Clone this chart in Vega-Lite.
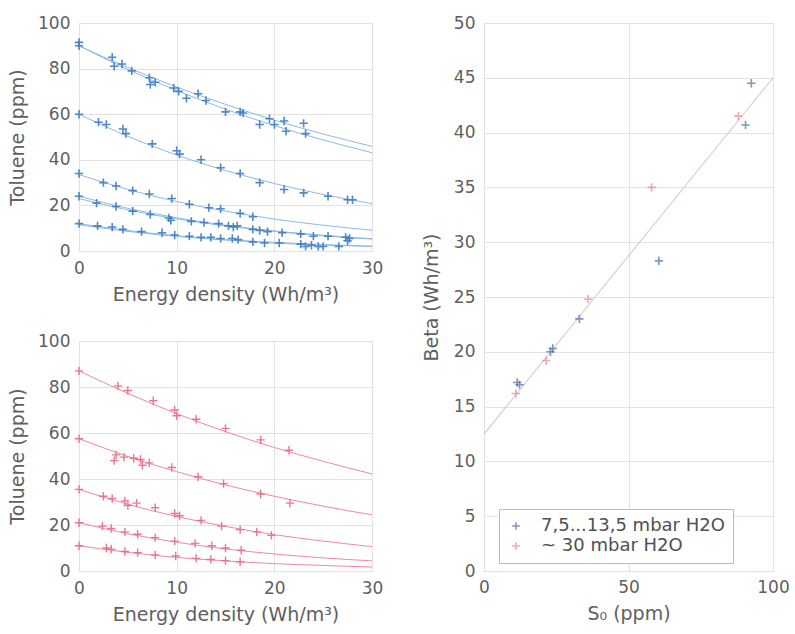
{
  "$schema": "https://vega.github.io/schema/vega-lite/v6.json",
  "background": "white",
  "padding": {"left": 8, "top": 13, "right": 5, "bottom": 5},
  "datasets": {
    "blue_pts": [
      {"x":0,"y":90},{"x":0,"y":91.5},{"x":3.4,"y":85},{"x":3.6,"y":81},{"x":4.4,"y":82},{"x":5.4,"y":79},{"x":7.2,"y":76},{"x":7.3,"y":73},{"x":7.8,"y":74},{"x":9.7,"y":71.5},{"x":10.2,"y":70},{"x":11,"y":67},{"x":12.2,"y":69},{"x":13,"y":66},{"x":15,"y":61},{"x":16.5,"y":61},{"x":16.8,"y":60.5},{"x":18.5,"y":55.5},{"x":19.5,"y":58},{"x":20,"y":55.5},{"x":21,"y":57},{"x":21.2,"y":52.5},{"x":23,"y":56},{"x":23.2,"y":51.5},
      {"x":0,"y":60},{"x":2,"y":56.5},{"x":2.8,"y":55.5},{"x":4.5,"y":53.5},{"x":4.8,"y":51.5},{"x":7.5,"y":47},{"x":10,"y":44},{"x":10.3,"y":42.5},{"x":12.5,"y":40},{"x":14.5,"y":36.5},{"x":16.5,"y":34},{"x":18.5,"y":30},{"x":21,"y":27},{"x":23,"y":25.5},{"x":25.5,"y":24},{"x":27.5,"y":22.5},{"x":28,"y":22.5},
      {"x":0,"y":34},{"x":2.5,"y":30},{"x":3.8,"y":28.5},{"x":5.5,"y":26.5},{"x":7.2,"y":25},{"x":9.5,"y":23},{"x":11.3,"y":20.5},{"x":13.3,"y":19},{"x":14.5,"y":18.5},{"x":16.5,"y":16.5},{"x":17.8,"y":15},
      {"x":0,"y":24},{"x":1.8,"y":21},{"x":3.8,"y":19.5},{"x":5.5,"y":17.5},{"x":7.3,"y":16},{"x":9.2,"y":14.5},{"x":9.4,"y":13.5},{"x":11.5,"y":13},{"x":12.8,"y":12.5},{"x":14.3,"y":12},{"x":15.3,"y":11},{"x":15.8,"y":10.5},{"x":16.2,"y":11},{"x":17.8,"y":9.5},{"x":18.5,"y":9},{"x":19.3,"y":8.5},{"x":20.8,"y":8},{"x":22.7,"y":7.5},{"x":24,"y":6.5},{"x":25.5,"y":6.5},{"x":27.3,"y":6},{"x":27.7,"y":5.5},
      {"x":0,"y":12},{"x":1.9,"y":11},{"x":3.4,"y":10.5},{"x":4.5,"y":9.5},{"x":6.4,"y":8.5},{"x":8.5,"y":8},{"x":9.8,"y":7},{"x":11.3,"y":6.5},{"x":12.5,"y":6},{"x":13.5,"y":6},{"x":14.5,"y":5.5},{"x":15.7,"y":5.5},{"x":16.3,"y":5},{"x":17.8,"y":4},{"x":19,"y":3.5},{"x":20.5,"y":3.5},{"x":22.7,"y":3},{"x":23.2,"y":2},{"x":23.8,"y":2.5},{"x":24.5,"y":2},{"x":25,"y":2},{"x":26.6,"y":2},{"x":27.5,"y":4.5}
    ],
    "blue_lines": [
      {"c":"b1","x":0,"y":90},{"c":"b1","x":5,"y":80.5},{"c":"b1","x":10,"y":71.9},{"c":"b1","x":15,"y":64.3},{"c":"b1","x":20,"y":57.4},{"c":"b1","x":25,"y":51.3},{"c":"b1","x":30,"y":45.9},
      {"c":"b2","x":0,"y":90},{"c":"b2","x":5,"y":79.6},{"c":"b2","x":10,"y":70.4},{"c":"b2","x":15,"y":62.2},{"c":"b2","x":20,"y":55.0},{"c":"b2","x":25,"y":48.7},{"c":"b2","x":30,"y":43.1},
      {"c":"b3","x":0,"y":60},{"c":"b3","x":5,"y":50.3},{"c":"b3","x":10,"y":42.1},{"c":"b3","x":15,"y":35.3},{"c":"b3","x":20,"y":29.6},{"c":"b3","x":25,"y":24.8},{"c":"b3","x":30,"y":20.8},
      {"c":"b4","x":0,"y":33.5},{"c":"b4","x":5,"y":27.0},{"c":"b4","x":10,"y":21.7},{"c":"b4","x":15,"y":17.5},{"c":"b4","x":20,"y":14.0},{"c":"b4","x":25,"y":11.3},{"c":"b4","x":30,"y":9.1},
      {"c":"b5","x":0,"y":24},{"c":"b5","x":5,"y":18.7},{"c":"b5","x":10,"y":14.6},{"c":"b5","x":15,"y":11.3},{"c":"b5","x":20,"y":8.8},{"c":"b5","x":25,"y":6.9},{"c":"b5","x":30,"y":5.4},
      {"c":"b6","x":0,"y":23},{"c":"b6","x":5,"y":18.0},{"c":"b6","x":10,"y":14.1},{"c":"b6","x":15,"y":11.0},{"c":"b6","x":20,"y":8.6},{"c":"b6","x":25,"y":6.7},{"c":"b6","x":30,"y":5.2},
      {"c":"b7","x":0,"y":12},{"c":"b7","x":5,"y":9.0},{"c":"b7","x":10,"y":6.7},{"c":"b7","x":15,"y":5.0},{"c":"b7","x":20,"y":3.8},{"c":"b7","x":25,"y":2.8},{"c":"b7","x":30,"y":2.1},
      {"c":"b8","x":0,"y":11.5},{"c":"b8","x":5,"y":8.6},{"c":"b8","x":10,"y":6.4},{"c":"b8","x":15,"y":4.8},{"c":"b8","x":20,"y":3.5},{"c":"b8","x":25,"y":2.6},{"c":"b8","x":30,"y":2.0}
    ],
    "red_pts": [
      {"x":0,"y":87},{"x":4,"y":80.5},{"x":5,"y":78.5},{"x":7.6,"y":74},{"x":9.8,"y":70},{"x":10,"y":67.5},{"x":12,"y":66},{"x":15,"y":62},{"x":18.6,"y":57},{"x":21.5,"y":52.5},
      {"x":0,"y":57.5},{"x":3.6,"y":48},{"x":3.8,"y":50.5},{"x":4.6,"y":49.5},{"x":5.6,"y":49},{"x":6.3,"y":48.5},{"x":6.5,"y":46},{"x":7.2,"y":47},{"x":9.5,"y":45},{"x":12.2,"y":41},{"x":14.8,"y":38},{"x":18.6,"y":33.5},{"x":21.6,"y":29.5},
      {"x":0,"y":35.5},{"x":2.5,"y":32.5},{"x":3.4,"y":31.5},{"x":4.7,"y":30.5},{"x":5,"y":28.5},{"x":5.9,"y":29.5},{"x":7.8,"y":27.5},{"x":9.8,"y":25},{"x":10.3,"y":24},{"x":12.5,"y":22},{"x":14.6,"y":19.5},{"x":16.5,"y":18},{"x":18.2,"y":17},{"x":19.7,"y":15.5},
      {"x":0,"y":21},{"x":2.4,"y":19.5},{"x":3.3,"y":18.5},{"x":4.7,"y":17},{"x":6,"y":16},{"x":7.8,"y":14.5},{"x":9.8,"y":13},{"x":11.9,"y":12},{"x":13.6,"y":11},{"x":15,"y":10},{"x":16.6,"y":9},
      {"x":0,"y":11},{"x":2.8,"y":10},{"x":3.3,"y":9.5},{"x":4.7,"y":8.5},{"x":6,"y":8},{"x":7.8,"y":7},{"x":9.9,"y":6.5},{"x":12,"y":5.5},{"x":13.5,"y":5},{"x":15,"y":4.5},{"x":16.5,"y":4}
    ],
    "red_lines": [
      {"c":"r1","x":0,"y":87},{"c":"r1","x":5,"y":77.2},{"c":"r1","x":10,"y":68.4},{"c":"r1","x":15,"y":60.6},{"c":"r1","x":20,"y":53.7},{"c":"r1","x":25,"y":47.7},{"c":"r1","x":30,"y":42.2},
      {"c":"r2","x":0,"y":57.5},{"c":"r2","x":5,"y":49.8},{"c":"r2","x":10,"y":43.2},{"c":"r2","x":15,"y":37.4},{"c":"r2","x":20,"y":32.5},{"c":"r2","x":25,"y":28.2},{"c":"r2","x":30,"y":24.4},
      {"c":"r3","x":0,"y":35.5},{"c":"r3","x":5,"y":29.0},{"c":"r3","x":10,"y":23.7},{"c":"r3","x":15,"y":19.4},{"c":"r3","x":20,"y":15.8},{"c":"r3","x":25,"y":13.0},{"c":"r3","x":30,"y":10.6},
      {"c":"r4","x":0,"y":21},{"c":"r4","x":5,"y":16.2},{"c":"r4","x":10,"y":12.5},{"c":"r4","x":15,"y":9.6},{"c":"r4","x":20,"y":7.4},{"c":"r4","x":25,"y":5.7},{"c":"r4","x":30,"y":4.4},
      {"c":"r5","x":0,"y":11},{"c":"r5","x":5,"y":8.1},{"c":"r5","x":10,"y":5.9},{"c":"r5","x":15,"y":4.4},{"c":"r5","x":20,"y":3.2},{"c":"r5","x":25,"y":2.4},{"c":"r5","x":30,"y":1.7}
    ],
    "beta_pts": [
      {"s0":11.5,"beta":17.2,"g":"7,5...13,5 mbar H2O"},{"s0":12.3,"beta":17.0,"g":"7,5...13,5 mbar H2O"},{"s0":23,"beta":20,"g":"7,5...13,5 mbar H2O"},{"s0":23.8,"beta":20.3,"g":"7,5...13,5 mbar H2O"},{"s0":33,"beta":23,"g":"7,5...13,5 mbar H2O"},{"s0":60.5,"beta":28.3,"g":"7,5...13,5 mbar H2O"},{"s0":90.5,"beta":40.7,"g":"7,5...13,5 mbar H2O"},{"s0":92.5,"beta":44.5,"g":"7,5...13,5 mbar H2O"},
      {"s0":11,"beta":16.2,"g":"~ 30 mbar H2O"},{"s0":21.5,"beta":19.2,"g":"~ 30 mbar H2O"},{"s0":36,"beta":24.8,"g":"~ 30 mbar H2O"},{"s0":58,"beta":35,"g":"~ 30 mbar H2O"},{"s0":88,"beta":41.5,"g":"~ 30 mbar H2O"}
    ],
    "beta_line": [
      {"s0":0,"beta":12.5},{"s0":100,"beta":45}
    ]
  },
  "config": {
    "font": "DejaVu Sans",
    "view": {"stroke": "#c8c8c8"},
    "axis": {
      "domain": false, "ticks": false, "gridColor": "#e2e2e2",
      "labelColor": "#606060", "titleColor": "#606060",
      "labelFont": "DejaVu Sans", "titleFont": "DejaVu Sans",
      "labelFontSize": 17, "titleFontSize": 19, "titleFontWeight": "normal",
      "labelFlush": false, "labelOverlap": false
    },
    "axisX": {"labelPadding": 9, "titlePadding": 9},
    "axisY": {"labelPadding": 9, "titlePadding": 10},
    "legend": {
      "labelFontSize": 18, "labelColor": "#505050", "labelFont": "DejaVu Sans"
    }
  },
  "spacing": 37,
  "hconcat": [
    {
      "spacing": 26,
      "vconcat": [
        {
          "width": 293, "height": 228,
          "layer": [
            {
              "data": {"name": "blue_lines"},
              "mark": {"type": "line", "interpolate": "monotone", "color": "#8fb8e6", "strokeWidth": 1},
              "encoding": {
                "x": {"field": "x", "type": "quantitative", "scale": {"domain": [0, 30], "nice": false}, "axis": {"values": [0, 10, 20, 30], "title": "Energy density (Wh/m³)"}},
                "y": {"field": "y", "type": "quantitative", "scale": {"domain": [0, 100], "nice": false}, "axis": {"values": [0, 20, 40, 60, 80, 100], "title": "Toluene (ppm)"}},
                "detail": {"field": "c"}
              }
            },
            {
              "data": {"name": "blue_pts"},
              "mark": {"type": "point", "shape": "M-1,0L1,0M0,-1L0,1", "filled": false, "color": "#3f7cc2", "size": 70, "strokeWidth": 1.6, "opacity": 0.9},
              "encoding": {
                "x": {"field": "x", "type": "quantitative"},
                "y": {"field": "y", "type": "quantitative"}
              }
            }
          ]
        },
        {
          "width": 293, "height": 230,
          "layer": [
            {
              "data": {"name": "red_lines"},
              "mark": {"type": "line", "interpolate": "monotone", "color": "#f08a9a", "strokeWidth": 1},
              "encoding": {
                "x": {"field": "x", "type": "quantitative", "scale": {"domain": [0, 30], "nice": false}, "axis": {"values": [0, 10, 20, 30], "title": "Energy density (Wh/m³)"}},
                "y": {"field": "y", "type": "quantitative", "scale": {"domain": [0, 100], "nice": false}, "axis": {"values": [0, 20, 40, 60, 80, 100], "title": "Toluene (ppm)"}},
                "detail": {"field": "c"}
              }
            },
            {
              "data": {"name": "red_pts"},
              "mark": {"type": "point", "shape": "M-1,0L1,0M0,-1L0,1", "filled": false, "color": "#e86a80", "size": 70, "strokeWidth": 1.4, "opacity": 0.9},
              "encoding": {
                "x": {"field": "x", "type": "quantitative"},
                "y": {"field": "y", "type": "quantitative"}
              }
            }
          ]
        }
      ]
    },
    {
      "width": 289, "height": 548,
      "layer": [
        {
          "data": {"name": "beta_line"},
          "mark": {"type": "line", "color": "#dccdd3", "strokeWidth": 1.2},
          "encoding": {
            "x": {"field": "s0", "type": "quantitative", "scale": {"domain": [0, 100], "nice": false}, "axis": {"values": [0, 50, 100], "title": "S₀ (ppm)", "labelPadding": 8}},
            "y": {"field": "beta", "type": "quantitative", "scale": {"domain": [0, 50], "nice": false}, "axis": {"values": [0, 5, 10, 15, 20, 25, 30, 35, 40, 45, 50], "title": "Beta (Wh/m³)", "titlePadding": 12}}
          }
        },
        {
          "data": {"name": "beta_pts"},
          "mark": {"type": "point", "shape": "M-1,0L1,0M0,-1L0,1", "filled": false, "size": 70, "strokeWidth": 1.6},
          "encoding": {
            "x": {"field": "s0", "type": "quantitative"},
            "y": {"field": "beta", "type": "quantitative"},
            "color": {
              "field": "g", "type": "nominal",
              "scale": {"domain": ["7,5...13,5 mbar H2O", "~ 30 mbar H2O"], "range": ["#4a6a9e", "#ee8296"]},
              "legend": {
                "title": null, "orient": "none", "legendX": 15, "legendY": 486,
                "strokeColor": "#bbbbbb", "fillColor": "white", "padding": 8,
                "symbolType": "M-1,0L1,0M0,-1L0,1", "symbolStrokeWidth": 1.5, "symbolSize": 60,
                "labelOffset": 16, "rowPadding": 2, "labelLimit": 400
              }
            }
          }
        }
      ]
    }
  ],
  "resolve": {"scale": {"color": "independent"}}
}
